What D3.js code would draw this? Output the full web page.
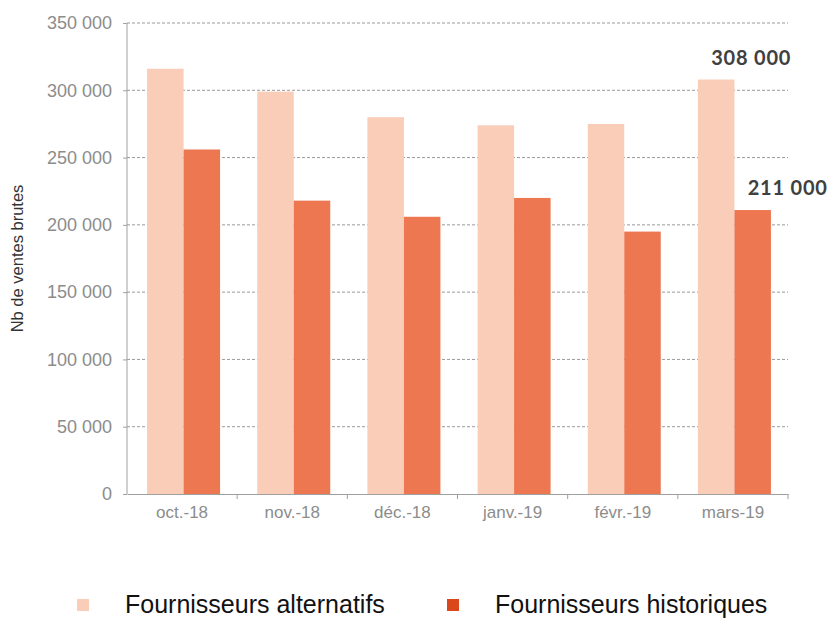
<!DOCTYPE html>
<html>
<head>
<meta charset="utf-8">
<script src="https://cdn.jsdelivr.net/npm/d3@7"></script>
<style>
  body { margin: 0; background: #fff; }
  svg { display: block; }
</style>
</head>
<body>
<div id="chart"></div>
<script>
var months = ["oct.-18", "nov.-18", "déc.-18", "janv.-19", "févr.-19", "mars-19"];
var alternatifs = [316000, 299000, 280000, 274000, 275000, 308000];
var historiques = [256000, 218000, 206000, 220000, 195000, 211000];
var seriesNames = ["Fournisseurs alternatifs", "Fournisseurs historiques"];
var yTicks = [0, 50000, 100000, 150000, 200000, 250000, 300000, 350000];

var margin = {top: 23, right: 39, bottom: 125, left: 127};
var width = 827 - margin.left - margin.right,
    height = 619 - margin.top - margin.bottom;

var svg = d3.select("#chart").append("svg")
  .attr("width", 827)
  .attr("height", 619);

var g = svg.append("g")
  .attr("transform", "translate(" + margin.left + "," + margin.top + ")");

var x = d3.scaleBand().domain(months).range([0, width]);
var x1 = d3.scaleBand().domain(seriesNames).range([0, 73]);
var y = d3.scaleLinear().domain([0, 350000]).range([height, 0]);
var colors = ["#f9cdb8", "#ec7751"];
var legendColors = ["#f9cdb8", "#d9471b"];

var fmt = function(d) { return d3.format(",")(d).replace(/,/g, " "); };

// gridlines
g.append("g")
  .selectAll("line")
  .data(yTicks.slice(1))
  .enter().append("line")
  .attr("x1", 0).attr("x2", width)
  .attr("y1", function(d) { return y(d); })
  .attr("y2", function(d) { return y(d); })
  .attr("stroke", "#9a9a9a")
  .attr("stroke-dasharray", "3,2")
  .attr("stroke-width", 1);

var rows = months.map(function(m, i) {
  return {month: m, values: [alternatifs[i], historiques[i]]};
});

var groups = g.append("g").selectAll("g")
  .data(rows)
  .enter().append("g")
  .attr("transform", function(d) { return "translate(" + (x(d.month) + (x.bandwidth() - 73) / 2 + 1.5) + ",0)"; });

groups.selectAll("rect")
  .data(function(d) { return d.values.map(function(v, j) { return {key: seriesNames[j], value: v, j: j}; }); })
  .enter().append("rect")
  .attr("x", function(d) { return x1(d.key); })
  .attr("width", x1.bandwidth())
  .attr("y", function(d) { return y(d.value); })
  .attr("height", function(d) { return height - y(d.value); })
  .attr("fill", function(d) { return colors[d.j]; });

// labels on last month
var last = months.length - 1;
var lx = x(months[last]) + (x.bandwidth() - 73) / 2 + 1.5;
[alternatifs[last], historiques[last]].forEach(function(v, j) {
  g.append("text")
    .attr("x", lx + x1(seriesNames[j]) + x1.bandwidth() / 2 + 35)
    .attr("y", y(v) - 15)
    .attr("text-anchor", "middle")
    .attr("font-family", "Lato, 'Liberation Sans', sans-serif")
    .attr("font-weight", "bold")
    .attr("font-size", 20)
    .attr("letter-spacing", 0.8)
    .attr("fill", "#404040")
    .text(fmt(v));
});

// y axis
var yAxis = g.append("g")
  .call(d3.axisLeft(y).tickValues(yTicks).tickSize(4).tickPadding(11).tickFormat(fmt));
yAxis.select(".domain").attr("stroke", "#a0a0a0").attr("d", "M0,0V" + height);
yAxis.selectAll(".tick line").attr("stroke", "#a0a0a0");
yAxis.selectAll("text")
  .attr("font-family", "'Liberation Sans', Arial, sans-serif")
  .attr("font-size", 18)
  .attr("fill", "#8c8c8c");

// x axis
var xAxis = g.append("g")
  .attr("transform", "translate(0," + height + ")")
  .call(d3.axisBottom(x).tickSize(0).tickPadding(12));
xAxis.select(".domain").attr("stroke", "#a0a0a0");
xAxis.selectAll("text")
  .attr("font-family", "'Liberation Sans', Arial, sans-serif")
  .attr("font-size", 17)
  .attr("fill", "#8c8c8c");
xAxis.selectAll(".sep")
  .data(months.slice(1))
  .enter().append("line")
  .attr("x1", function(d) { return x(d); })
  .attr("x2", function(d) { return x(d); })
  .attr("y1", 0).attr("y2", 5)
  .attr("stroke", "#a0a0a0");
xAxis.append("line")
  .attr("x1", width).attr("x2", width)
  .attr("y1", 0).attr("y2", 5)
  .attr("stroke", "#a0a0a0");

// y label
svg.append("text")
  .attr("transform", "translate(23," + (margin.top + height / 2) + ") rotate(-90)")
  .attr("text-anchor", "middle")
  .attr("font-family", "'Liberation Sans', Arial, sans-serif")
  .attr("font-size", 16.5)
  .attr("fill", "#333")
  .text("Nb de ventes brutes");

// legend
var legend = svg.append("g").selectAll("g")
  .data(seriesNames)
  .enter().append("g")
  .attr("transform", function(d, i) { return "translate(" + (77 + i * 370) + ",599)"; });

legend.append("rect")
  .attr("width", 12).attr("height", 12)
  .attr("fill", function(d, i) { return legendColors[i]; });

legend.append("text")
  .attr("x", 48)
  .attr("y", 14)
  .attr("font-family", "'Liberation Sans', Arial, sans-serif")
  .attr("font-size", 25)
  .attr("fill", "#111")
  .text(function(d) { return d; });
</script>
</body>
</html>
